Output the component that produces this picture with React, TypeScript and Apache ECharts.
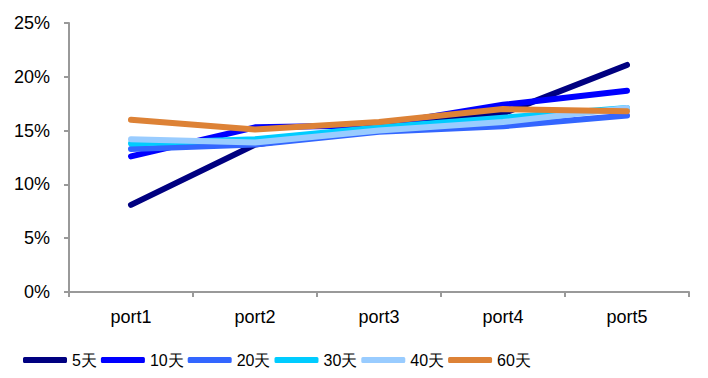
import React, { useEffect, useRef } from "react";
import * as echarts from "echarts";

const categories = ["port1", "port2", "port3", "port4", "port5"];
const seriesNames = ["5天", "10天", "20天", "30天", "40天", "60天"];
const s5 = [8.1, 13.7, 15.3, 16.6, 21.1];
const s10 = [12.6, 15.3, 15.5, 17.4, 18.7];
const s20 = [13.3, 13.7, 14.9, 15.4, 16.4];
const s30 = [13.8, 14.2, 15.3, 16.2, 17.1];
const s40 = [14.2, 13.9, 15.0, 15.8, 17.1];
const s60 = [16.0, 15.1, 15.8, 17.0, 16.8];
const seriesData = [s5, s10, s20, s30, s40, s60];
const colors = ["#000080", "#0000FF", "#3366FF", "#00CCFF", "#99CCFF", "#DD8236"];
const yTicks = [0, 5, 10, 15, 20, 25];

export default function App() {
  const ref = useRef<HTMLDivElement>(null);
  useEffect(() => {
    if (!ref.current) return;
    const chart = echarts.init(ref.current, null, { renderer: "svg" });
    chart.setOption({
      animation: false,
      backgroundColor: "#ffffff",
      grid: { left: 69, right: 19, top: 23, bottom: 86, containLabel: false },
      legend: {
        data: seriesNames,
        left: 18,
        top: 347,
        icon: "roundRect",
        itemWidth: 44,
        itemHeight: 6,
        itemGap: 4,
        textStyle: {
          fontSize: 16,
          color: "#000",
          fontFamily: "'Liberation Sans', Arial, sans-serif",
        },
      },
      xAxis: {
        type: "category",
        data: categories,
        boundaryGap: true,
        axisLine: { lineStyle: { color: "#999999", width: 2 } },
        axisTick: { show: true, length: 5, alignWithLabel: false, lineStyle: { color: "#999999", width: 2 } },
        axisLabel: {
          color: "#000",
          fontSize: 18,
          margin: 16,
          fontFamily: "'Liberation Sans', Arial, sans-serif",
        },
      },
      yAxis: {
        type: "value",
        min: yTicks[0],
        max: yTicks[yTicks.length - 1],
        interval: 5,
        splitLine: { show: false },
        axisLine: { show: true, lineStyle: { color: "#999999", width: 2 } },
        axisTick: { show: true, length: 5, lineStyle: { color: "#999999", width: 2 } },
        axisLabel: {
          color: "#000",
          fontSize: 18,
          margin: 19,
          fontFamily: "'Liberation Sans', Arial, sans-serif",
          formatter: (v: number) => `${v}%`,
        },
      },
      series: seriesNames.map((name, i) => ({
        name,
        type: "line",
        data: seriesData[i],
        symbol: "none",
        color: colors[i],
        lineStyle: { color: colors[i], width: 6, cap: "round", join: "round" },
        z: 2 + i,
      })),
    });
    return () => chart.dispose();
  }, []);
  return (
    <div
      ref={ref}
      style={{ position: "fixed", left: 0, top: 0, width: 708, height: 378, background: "#fff" }}
    />
  );
}
